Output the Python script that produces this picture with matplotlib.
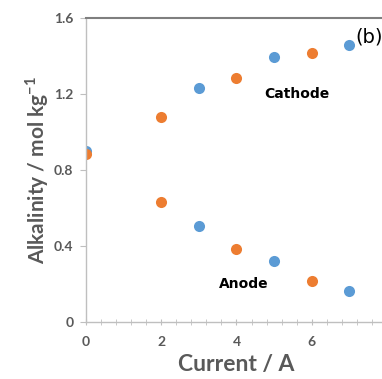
import numpy as np
import matplotlib.pyplot as plt
from matplotlib.ticker import MultipleLocator

# alkalinity vs applied current
current_blue = [0, 3, 5, 7]
current_orange = [0, 2, 4, 6]
cathode_blue = [0.90, 1.23, 1.396, 1.458]
cathode_orange = [0.884, 1.078, 1.283, 1.417]
anode_blue = [0.90, 0.504, 0.318, 0.162]
anode_orange = [0.884, 0.632, 0.381, 0.213]
x_ticks = [0, 2, 4, 6]
y_ticks = [0, 0.4, 0.8, 1.2, 1.6]
y_ticklabels = ['0', '0.4', '0.8', '1.2', '1.6']

blue = '#5B9BD5'
orange = '#ED7D31'
grey = '#595959'

plt.rcParams['font.family'] = ['Lato', 'DejaVu Sans']
plt.rcParams['mathtext.fontset'] = 'custom'
plt.rcParams['mathtext.rm'] = 'Lato'
plt.rcParams['mathtext.bf'] = 'Lato:bold'

fig = plt.figure(figsize=(3.82, 3.79), dpi=100)
ax = fig.add_axes([0.225, 0.151, 0.788, 0.8015])

ms = 8
ax.plot(current_blue, cathode_blue, 'o', color=blue, ms=ms, mec='none')
ax.plot(current_orange, cathode_orange, 'o', color=orange, ms=ms, mec='none')
ax.plot(current_blue[1:], anode_blue[1:], 'o', color=blue, ms=ms, mec='none')
ax.plot(current_orange[1:], anode_orange[1:], 'o', color=orange, ms=ms, mec='none')

ax.set_xlim(0, 8)
ax.set_ylim(0, 1.6)
ax.set_xticks(x_ticks)
ax.set_yticks(y_ticks)
ax.set_yticklabels(y_ticklabels)
ax.xaxis.set_minor_locator(MultipleLocator(0.4))

for s in ['left', 'bottom']:
    ax.spines[s].set_color('#BFBFBF')
    ax.spines[s].set_linewidth(1)
ax.spines['top'].set_color('#7F7F7F')
ax.spines['top'].set_linewidth(1.5)
ax.spines['right'].set_visible(False)

ax.tick_params(axis='both', which='major', colors='#BFBFBF', length=4,
               labelcolor=grey, labelsize=10)
ax.tick_params(axis='x', which='both', direction='inout', length=5)
ax.tick_params(axis='x', which='minor', colors='#BFBFBF', length=4)
ax.tick_params(axis='x', pad=8)
ax.tick_params(axis='y', pad=5)
for lab in ax.get_xticklabels() + ax.get_yticklabels():
    lab.set_fontweight('bold')

ax.set_xlabel('Current / A', fontsize=16.5, color=grey, fontweight='bold', labelpad=4)
ax.set_ylabel('Alkalinity / mol kg$^{\\mathbf{-1}}$', fontsize=15, color=grey,
              fontweight='bold', labelpad=2)

ax.text(5.6, 1.20, 'Cathode', fontsize=10, fontweight='bold', ha='center', va='center',
        family='DejaVu Sans')
ax.text(4.2, 0.20, 'Anode', fontsize=10, fontweight='bold', ha='center', va='center',
        family='DejaVu Sans')
ax.text(7.15, 1.50, '(b)', fontsize=14, ha='left', va='center', family='DejaVu Sans')

fig.savefig('out.png', dpi=100)
